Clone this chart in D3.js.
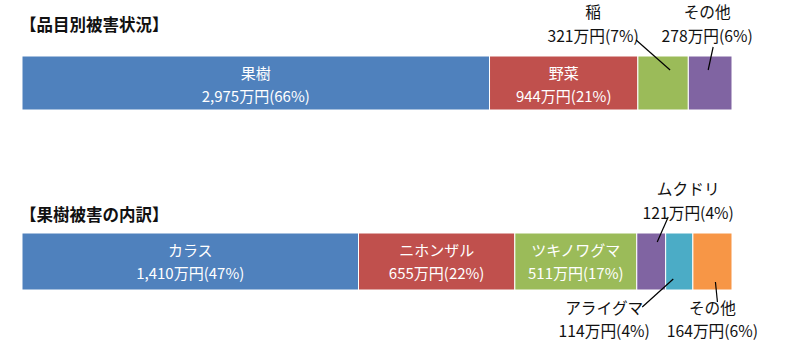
<!DOCTYPE html>
<html>
<head>
<meta charset="utf-8">
<script src="https://cdnjs.cloudflare.com/ajax/libs/d3/7.8.5/d3.min.js"></script>
<style>
body{margin:0;background:#fff;}
svg text{font-family:"Noto Sans CJK JP","Noto Sans",sans-serif;}
</style>
</head>
<body>
<div id="chart"></div>
<script>
// 品目別
var items = ["果樹","野菜","稲","その他"];
var itemValues = [2975, 944, 321, 278];
var itemPcts = [66, 21, 7, 6];
// 果樹の内訳
var pests = ["カラス","ニホンザル","ツキノワグマ","ムクドリ","アライグマ","その他"];
var pestValues = [1410, 655, 511, 121, 114, 164];
var pestPcts = [47, 22, 17, 4, 4, 6];

var colors = ["#4f81bd","#c0504d","#9bbb59","#8064a2","#4bacc6","#f79646"];
var W = 800, H = 359;
var fmt = d3.format(",");

var svg = d3.select("#chart").append("svg")
	.attr("width", W).attr("height", H);

// outside label config: where = above/below, dx = label shift from segment centre,
// line = [x1,y1,x2,y2] relative to (segment centre, bar edge)
var cfgs = [
	{
		title: "【品目別被害状況】", titleY: 31,
		top: 56, height: 54,
		names: items, values: itemValues, pcts: itemPcts,
		outside: {
			2: {where:"above", dx:-70, line:[-27,-16,7,14]},
			3: {where:"above", dx:-3, line:[3,-9,-2,14]}
		}
	},
	{
		title: "【果樹被害の内訳】", titleY: 221,
		top: 233, height: 57,
		names: pests, values: pestValues, pcts: pestPcts,
		outside: {
			3: {where:"above", dx:37, line:[17,-16,6,9]},
			4: {where:"below", dx:-75, line:[-37,17,-6,-11]},
			5: {where:"below", dx:0, line:[3,-8,5,12]}
		}
	}
];

function drawBar(cfg){
	var total = d3.sum(cfg.values);
	var x = d3.scaleLinear().domain([0,total]).range([22,732]);
	var starts = [];
	var acc = 0;
	cfg.values.forEach(function(v){ starts.push(acc); acc += v; });

	svg.append("text")
		.attr("x", 20).attr("y", cfg.titleY)
		.style("font-size", "16.5px").style("font-weight", "bold")
		.style("fill", "#111")
		.text(cfg.title);

	var g = svg.append("g");
	g.selectAll("rect").data(cfg.values).enter().append("rect")
		.attr("x", function(d,i){ return x(starts[i]); })
		.attr("y", cfg.top)
		.attr("width", function(d,i){ return x(starts[i]+d) - x(starts[i]); })
		.attr("height", cfg.height)
		.attr("fill", function(d,i){ return colors[i]; })
		.attr("stroke", "#fff").attr("stroke-width", 1);

	cfg.values.forEach(function(v,i){
		var cx = (x(starts[i]) + x(starts[i]+v)) / 2;
		var line2 = fmt(v) + "万円(" + cfg.pcts[i] + "%)";
		var o = cfg.outside[i];
		if (!o){
			var t = g.append("text").attr("text-anchor","middle")
				.style("font-size","15px").style("fill","#fff");
			t.append("tspan").attr("x", cx).attr("y", cfg.top + 23).text(cfg.names[i]);
			t.append("tspan").attr("x", cx).attr("y", cfg.top + 46).text(line2);
			return;
		}
		var lx = cx + o.dx;
		var y1, y2, edge;
		if (o.where == "above"){
			edge = cfg.top;
			y1 = cfg.top - 38; y2 = cfg.top - 14;
		} else {
			edge = cfg.top + cfg.height;
			y1 = edge + 24; y2 = edge + 47;
		}
		var t2 = g.append("text").attr("text-anchor","middle")
			.style("font-size","15.7px").style("fill","#111");
		t2.append("tspan").attr("x", lx).attr("y", y1).text(cfg.names[i]);
		t2.append("tspan").attr("x", lx).attr("y", y2).text(line2);
		g.append("line")
			.attr("x1", cx + o.line[0]).attr("y1", edge + o.line[1])
			.attr("x2", cx + o.line[2]).attr("y2", edge + o.line[3])
			.attr("stroke", "#000").attr("stroke-width", 1.2);
	});
}

cfgs.forEach(drawBar);
</script>
</body>
</html>
